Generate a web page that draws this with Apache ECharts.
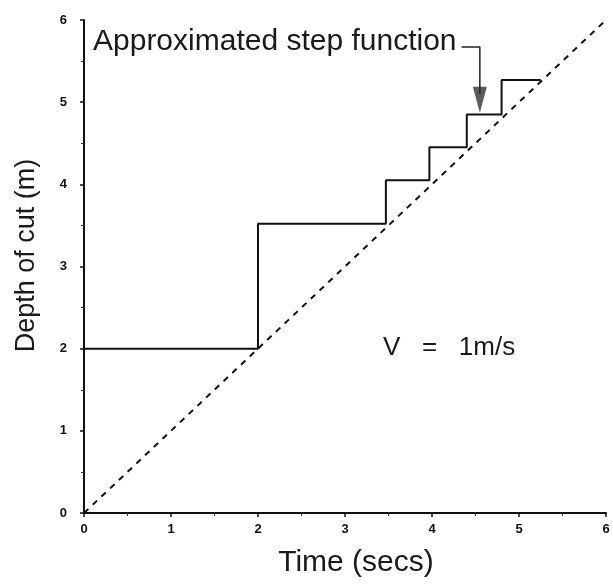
<!DOCTYPE html>
<html>
<head>
<meta charset="utf-8">
<script src="https://cdn.jsdelivr.net/npm/echarts@6/dist/echarts.min.js"></script>
<style>
  html, body { margin: 0; padding: 0; background: #fff; }
  #main { width: 613px; height: 586px; }
</style>
</head>
<body>
<div id="main"></div>
<script>
// step function: times where each level starts, and the level held until the next time
var stepTimes = [0, 2, 3.47, 3.97, 4.4, 4.8, 5.25];
var stepDepths = [2, 3.52, 4.05, 4.45, 4.85, 5.27];

// true cut depth, V = 1 m/s
var lineTimes = [0, 6];
var lineDepths = [0, 6];

// pointer from the label down to the step
var leaderTimes = [4.34, 4.55, 4.55];
var leaderDepths = [5.67, 5.67, 5.1];
var arrowHead = [4.55, 5.03];

var axisTicks = [0, 1, 2, 3, 4, 5, 6];

var stairData = [];
for (var i = 0; i < stepDepths.length; i++) {
    stairData.push([stepTimes[i], stepDepths[i]]);
    stairData.push([stepTimes[i + 1], stepDepths[i]]);
}
var diagData = lineTimes.map(function (t, i) { return [t, lineDepths[i]]; });
var leaderData = leaderTimes.map(function (t, i) { return [t, leaderDepths[i]]; });

var myChart = echarts.init(document.getElementById('main'));
var font = 'Liberation Sans, Arial, Helvetica, sans-serif';

var axisCommon = {
    type: 'value',
    min: axisTicks[0],
    max: axisTicks[axisTicks.length - 1],
    interval: 1,
    nameLocation: 'middle',
    nameTextStyle: { fontFamily: font, fontSize: 27, color: '#1a1a1a' },
    axisLine: { show: true, onZero: false, lineStyle: { color: '#111', width: 2 } },
    axisTick: { show: true, length: 4, lineStyle: { color: '#111', width: 1.5 } },
    minorTick: { show: true, splitNumber: 2, length: 3, lineStyle: { color: '#333' } },
    splitLine: { show: false },
    axisLabel: { fontFamily: font, fontSize: 13, fontWeight: 'bold', color: '#111' }
};

var option = {
    backgroundColor: '#fff',
    animation: false,
    grid: { left: 84, right: 7, top: 20, bottom: 73 },
    xAxis: echarts.util.merge({
        name: 'Time (secs)',
        nameGap: 35,
        nameTextStyle: { fontSize: 30, padding: [0, 0, 0, 22] },
        axisLabel: { margin: 10 }
    }, axisCommon),
    yAxis: echarts.util.merge({
        name: 'Depth of cut (m)',
        nameGap: 44,
        nameTextStyle: { padding: [0, 0, 0, 22] },
        axisLabel: { margin: 17 }
    }, axisCommon),
    graphic: [
        {
            type: 'text', left: 93, top: 27,
            style: { text: 'Approximated step function', font: '30px ' + font, fill: '#1a1a1a' }
        },
        {
            type: 'text', left: 383, top: 335,
            style: { text: 'V   =   1m/s', font: '26px ' + font, fill: '#1a1a1a' }
        }
    ],
    series: [
        {
            name: 'V = 1m/s',
            type: 'line',
            data: diagData,
            symbol: 'none',
            lineStyle: { color: '#111', width: 2, type: [6, 6] }
        },
        {
            name: 'Approximated step function',
            type: 'line',
            data: stairData,
            symbol: 'none',
            lineStyle: { color: '#111', width: 2 }
        },
        {
            type: 'line',
            data: leaderData,
            symbol: 'none',
            lineStyle: { color: '#222', width: 1.5 }
        },
        {
            type: 'scatter',
            data: [arrowHead],
            symbol: 'triangle',
            symbolRotate: 180,
            symbolSize: [14, 26],
            itemStyle: { color: '#333' }
        }
    ]
};

myChart.setOption(option);
</script>
</body>
</html>
